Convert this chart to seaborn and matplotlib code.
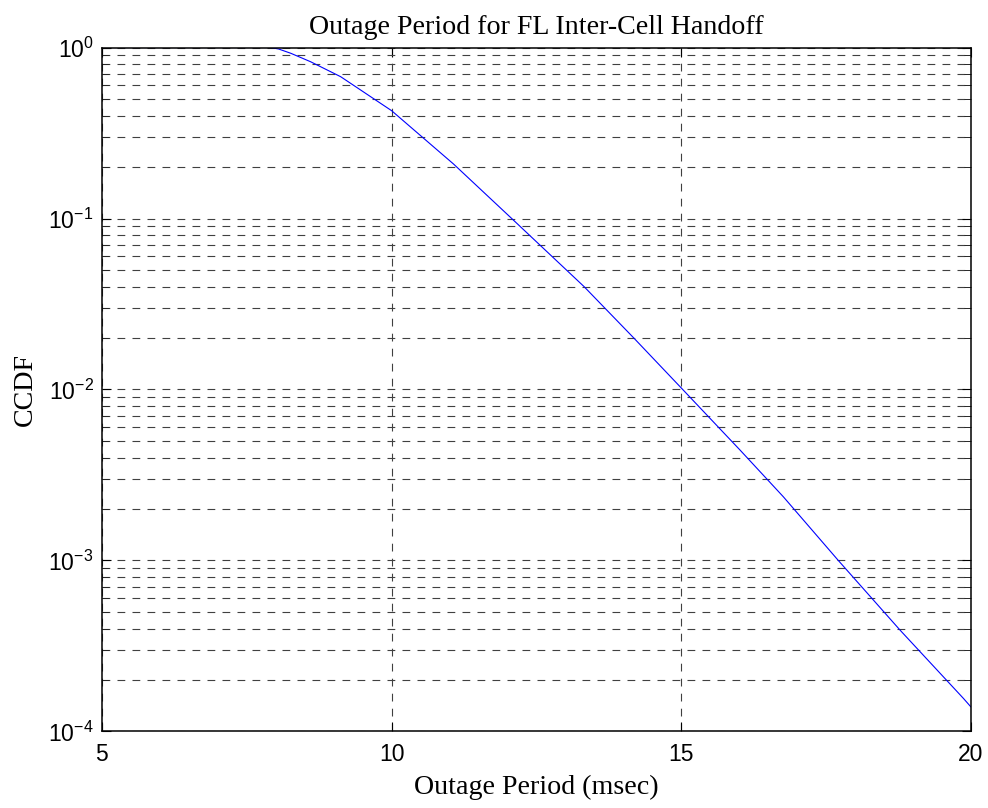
import numpy as np
import pandas as pd
import seaborn as sns
import matplotlib
matplotlib.use('Agg')
import matplotlib.pyplot as plt
from matplotlib.ticker import LogLocator, FixedLocator, NullFormatter

# valori (CCDF del periodo di outage)
outage_ms = [5.0, 7.9, 8.05, 8.26, 8.6, 9.12, 10.0, 11.07, 12.1, 13.32, 14.18,
             15.0, 16.02, 16.76, 17.71, 18.78, 19.87, 20.0]
ccdf = [1.0, 1.0, 0.98, 0.925, 0.826, 0.675, 0.427, 0.208, 0.098, 0.040, 0.020,
        0.0102, 0.0044, 0.00236, 0.0010, 0.00039, 0.000156, 0.000139]
x_ticks = [5, 10, 15, 20]

df = pd.DataFrame({'outage': outage_ms, 'ccdf': ccdf})

sns.set_theme(style='white')
plt.rcParams['font.family'] = ['Liberation Sans', 'DejaVu Sans']
plt.rcParams['mathtext.fontset'] = 'custom'
plt.rcParams['mathtext.rm'] = 'Liberation Sans'
plt.rcParams['mathtext.it'] = 'Liberation Sans'
plt.rcParams['mathtext.default'] = 'regular'

fig = plt.figure(figsize=(9.88, 8.08), dpi=100)
ax = fig.add_axes([0.1032, 0.0947, 0.8796, 0.8465])

sns.lineplot(data=df, x='outage', y='ccdf', ax=ax, color='#0000ff', linewidth=0.8)

ax.set_yscale('log')
ax.set_xlim(5, 20)
ax.set_ylim(1e-4, 1)
ax.xaxis.set_major_locator(FixedLocator(x_ticks))
ax.yaxis.set_major_locator(LogLocator(base=10, numticks=10))
ax.yaxis.set_minor_locator(LogLocator(base=10, subs=np.arange(2, 10), numticks=20))
ax.yaxis.set_minor_formatter(NullFormatter())

# griglia tratteggiata stile MATLAB
grid_kw = dict(color='0.25', linewidth=0.8, linestyle=(0, (7, 6.5)))
ax.grid(True, which='major', axis='both', **grid_kw)
ax.grid(True, which='minor', axis='y', **grid_kw)

for s in ax.spines.values():
    s.set_visible(True)
    s.set_color('black')
    s.set_linewidth(1.1)

ax.tick_params(axis='both', which='major', direction='in', length=6.5, width=0.8,
               labelsize=16.5, colors='black', pad=8, top=True, right=True, bottom=True, left=True)
ax.tick_params(axis='y', which='minor', direction='in', length=5, width=0.7,
               left=True, right=True)
ax.tick_params(axis='y', which='major', pad=6)

serif = ['Liberation Serif', 'DejaVu Serif']
ax.set_title('Outage Period for FL Inter-Cell Handoff', fontsize=20.2,
             family=serif, color='black', pad=10)
ax.set_xlabel('Outage Period (msec)', fontsize=20.2, family=serif, color='black', labelpad=7)
ax.set_ylabel('CCDF', fontsize=20.2, family=serif, color='black')
ax.yaxis.set_label_coords(-0.074, 0.5)

fig.savefig('out.png', dpi=100)
